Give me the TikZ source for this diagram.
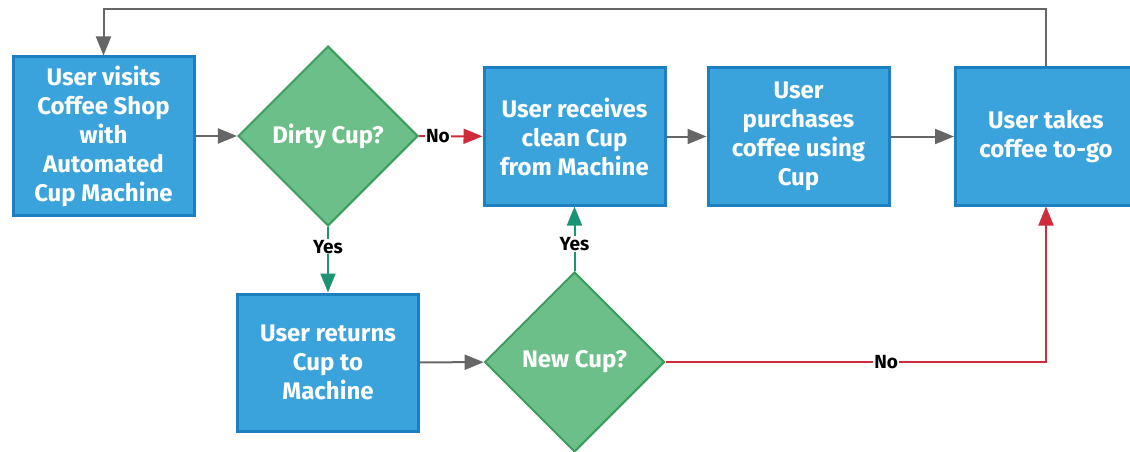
\documentclass[tikz,border=0pt]{standalone}
\usepackage{fontspec}
\setmainfont{Fira Sans}
\usetikzlibrary{shapes.geometric,arrows.meta}
\definecolor{boxfill}{HTML}{3BA3DC}
\definecolor{boxline}{HTML}{1C7FC0}
\definecolor{diafill}{HTML}{6DBF8A}
\definecolor{dialine}{HTML}{3C9D5C}
\definecolor{flowgray}{HTML}{666666}
\definecolor{flowred}{HTML}{D02B3A}
\definecolor{flowgreen}{HTML}{1C9474}
\begin{document}
\begin{tikzpicture}[x=1pt,y=-1pt,
  stepbox/.style={rectangle,draw=boxline,fill=boxfill,line width=3pt,minimum width=181pt,minimum height=137pt,
    align=center,text=white,font=\fontsize{24}{29}\selectfont\bfseries,inner sep=2pt},
  decision/.style={diamond,draw=dialine,fill=diafill,line width=2pt,minimum width=180pt,minimum height=180pt,
    inner sep=0pt,text=white,font=\fontsize{24}{29}\selectfont\bfseries},
  flow/.style={line width=2pt,-{Triangle[length=19pt,width=15pt]}},
  lbl/.style={fill=white,text=black,inner sep=1pt,font=\fontsize{19}{22}\selectfont\bfseries}]
\useasboundingbox (0,0) rectangle (1130,452);
\node[stepbox,minimum height=158pt] (visit) at (103.5,136) {User visits\\Coffee Shop\\with\\Automated\\Cup Machine};
\node[decision] (dirty) at (328,136) {Dirty Cup?};
\node[stepbox] (receive) at (574.5,136.5) {User receives\\clean Cup\\from Machine};
\node[stepbox] (purchase) at (798.5,136.5) {User\\purchases\\coffee using\\Cup};
\node[stepbox] (togo) at (1046,136.5) {User takes\\coffee to-go};
\node[stepbox] (return) at (328,362.5) {User returns\\Cup to\\Machine};
\node[decision] (newcup) at (574.5,362) {New Cup?};

\draw[flow,flowgray] (visit) -- (dirty);
\draw[flow,flowred] (dirty) -- node[lbl,pos=0.3]{No} (receive);
\draw[flow,flowgray] (receive) -- (purchase);
\draw[flow,flowgray] (purchase) -- (togo);
\draw[flow,flowgreen] (dirty) -- node[lbl,pos=0.3]{Yes} (return);
\draw[flow,flowgray] (return) -- (newcup);
\draw[flow,flowgreen] (newcup) -- node[lbl,pos=0.42]{Yes} (receive);
\draw[flow,flowred] (newcup) -| node[lbl,pos=0.29]{No} (togo);
\draw[flow,flowgray] (togo.north) -- ++(0,-57) -| (visit.north);
\end{tikzpicture}
\end{document}
